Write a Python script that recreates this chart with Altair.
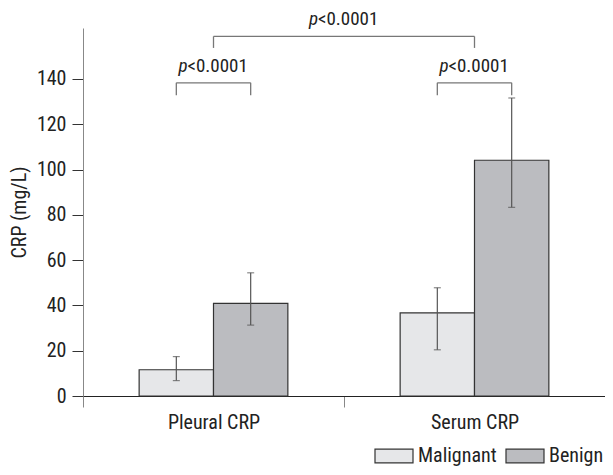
import altair as alt
import pandas as pd

categories = ["Pleural CRP", "Serum CRP"]
groups = ["Malignant", "Benign"]
mean_malignant = [11.6, 36.7]
mean_benign = [40.9, 104.1]
low_malignant = [6.8, 20.4]
low_benign = [31.3, 83.3]
high_malignant = [17.4, 47.8]
high_benign = [54.4, 131.6]
p_label = "<0.0001"

FONT = "Liberation Sans Narrow, Roboto Condensed, DejaVu Sans Condensed, sans-serif"

rows = []
for i, c in enumerate(categories):
    rows.append(dict(cat=c, grp="Malignant", mean=mean_malignant[i], lo=low_malignant[i], hi=high_malignant[i]))
    rows.append(dict(cat=c, grp="Benign", mean=mean_benign[i], lo=low_benign[i], hi=high_benign[i]))
df = pd.DataFrame(rows)

xscale = alt.Scale(domain=categories, paddingInner=0, paddingOuter=0)
xoff_scale = alt.Scale(domain=groups, paddingInner=0, paddingOuter=0.755)
yscale = alt.Scale(domain=[0, 162.5], nice=False)

X = alt.X("cat:N", scale=xscale, sort=categories,
          axis=alt.Axis(title=None, tickBand="extent", tickSize=11, tickColor="#888",
                        domainColor="#222", labelAngle=0, labelFontSize=20,
                        labelColor="#222", labelPadding=5, labelFont=FONT))
Y = alt.Y("mean:Q", scale=yscale,
          axis=alt.Axis(title="CRP (mg/L)", values=[0, 20, 40, 60, 80, 100, 120, 140],
                        tickSize=11, tickColor="#333", domainColor="#888", grid=False,
                        labelFontSize=20, labelColor="#222", labelFont=FONT, labelPadding=6,
                        titleFont=FONT, titleFontSize=20, titleFontWeight="normal",
                        titleColor="#222", titlePadding=7))
XO = alt.XOffset("grp:N", scale=xoff_scale, sort=groups)

bars = alt.Chart(df).mark_bar(stroke="#333", strokeWidth=1.2).encode(
    x=X, xOffset=XO, y=Y,
    color=alt.Color("grp:N", sort=groups,
                    scale=alt.Scale(domain=groups, range=["#e6e7e9", "#bbbcc0"]),
                    legend=alt.Legend(title=None, orient="none", direction="horizontal",
                                      legendX=291, legendY=408,
                                      symbolType="M-1,-0.36L1,-0.36L1,0.36L-1,0.36Z",
                                      symbolSize=1444, symbolStrokeColor="#333",
                                      symbolStrokeWidth=1.2, symbolOpacity=1,
                                      labelFontSize=20, labelFont=FONT, labelColor="#222",
                                      columnPadding=6, labelOffset=4)),
)

xe = alt.X("cat:N", scale=xscale, sort=categories)
err = alt.Chart(df).mark_rule(color="#555", strokeWidth=1.2).encode(
    x=xe, xOffset=XO, y=alt.Y("lo:Q", scale=yscale), y2="hi:Q")
caps_lo = alt.Chart(df).mark_tick(color="#555", size=7, thickness=1.2).encode(
    x=xe, xOffset=XO, y=alt.Y("lo:Q", scale=yscale))
caps_hi = alt.Chart(df).mark_tick(color="#555", size=7, thickness=1.2).encode(
    x=xe, xOffset=XO, y=alt.Y("hi:Q", scale=yscale))

# significance brackets
cat_df = pd.DataFrame({"cat": categories})
br_col = "#777"
small_h = alt.Chart(cat_df).mark_rule(color=br_col, strokeWidth=1.3).transform_calculate(
    v="138.3").encode(
    x=alt.X("cat:N", scale=xscale, sort=categories, bandPosition=0.3575),
    x2=alt.X2("cat", bandPosition=0.6425),
    y=alt.Y("v:Q", scale=yscale))
small_legs = alt.Chart(df).mark_rule(color=br_col, strokeWidth=1.3).transform_calculate(
    a="132.8", b="138.3").encode(
    x=xe, xOffset=XO, y=alt.Y("a:Q", scale=yscale), y2="b:Q")
big_h = alt.Chart(pd.DataFrame({"a": [categories[0]], "b": [categories[1]]})).mark_rule(
    color=br_col, strokeWidth=1.3).transform_calculate(v="158.8").encode(
    x=alt.X("a:N", scale=xscale, sort=categories), x2="b:N",
    y=alt.Y("v:Q", scale=yscale))
big_legs = alt.Chart(cat_df).mark_rule(color=br_col, strokeWidth=1.3).transform_calculate(
    a="153.7", b="158.8").encode(
    x=xe, y=alt.Y("a:Q", scale=yscale), y2="b:Q")


def ptext(data, xenc, yval):
    base = alt.Chart(data).transform_calculate(v=str(yval))
    p = base.mark_text(text="p", fontStyle="italic", align="right", baseline="middle",
                       dx=-26, fontSize=19, font=FONT, color="#222").encode(
        x=xenc, y=alt.Y("v:Q", scale=yscale))
    rest = base.mark_text(text=p_label, align="left", baseline="middle",
                          dx=-26, fontSize=19, font=FONT, color="#222").encode(
        x=xenc, y=alt.Y("v:Q", scale=yscale))
    return p + rest


small_txt = ptext(cat_df, xe, 145.6)
big_txt = ptext(pd.DataFrame({"cat": [categories[0]]}),
                alt.X("cat:N", scale=xscale, sort=categories, bandPosition=1), 166.3)

chart = alt.layer(bars, err, caps_lo, caps_hi, small_h, small_legs, big_h, big_legs,
                  small_txt, big_txt).properties(
    width=522, height=368,
    autosize=alt.AutoSizeParams(type="none"),
    padding={"left": 75, "top": 20, "right": 0, "bottom": 71},
).configure_view(stroke=None)

chart.save("out.html", embed_options={"renderer": "svg", "actions": False})
